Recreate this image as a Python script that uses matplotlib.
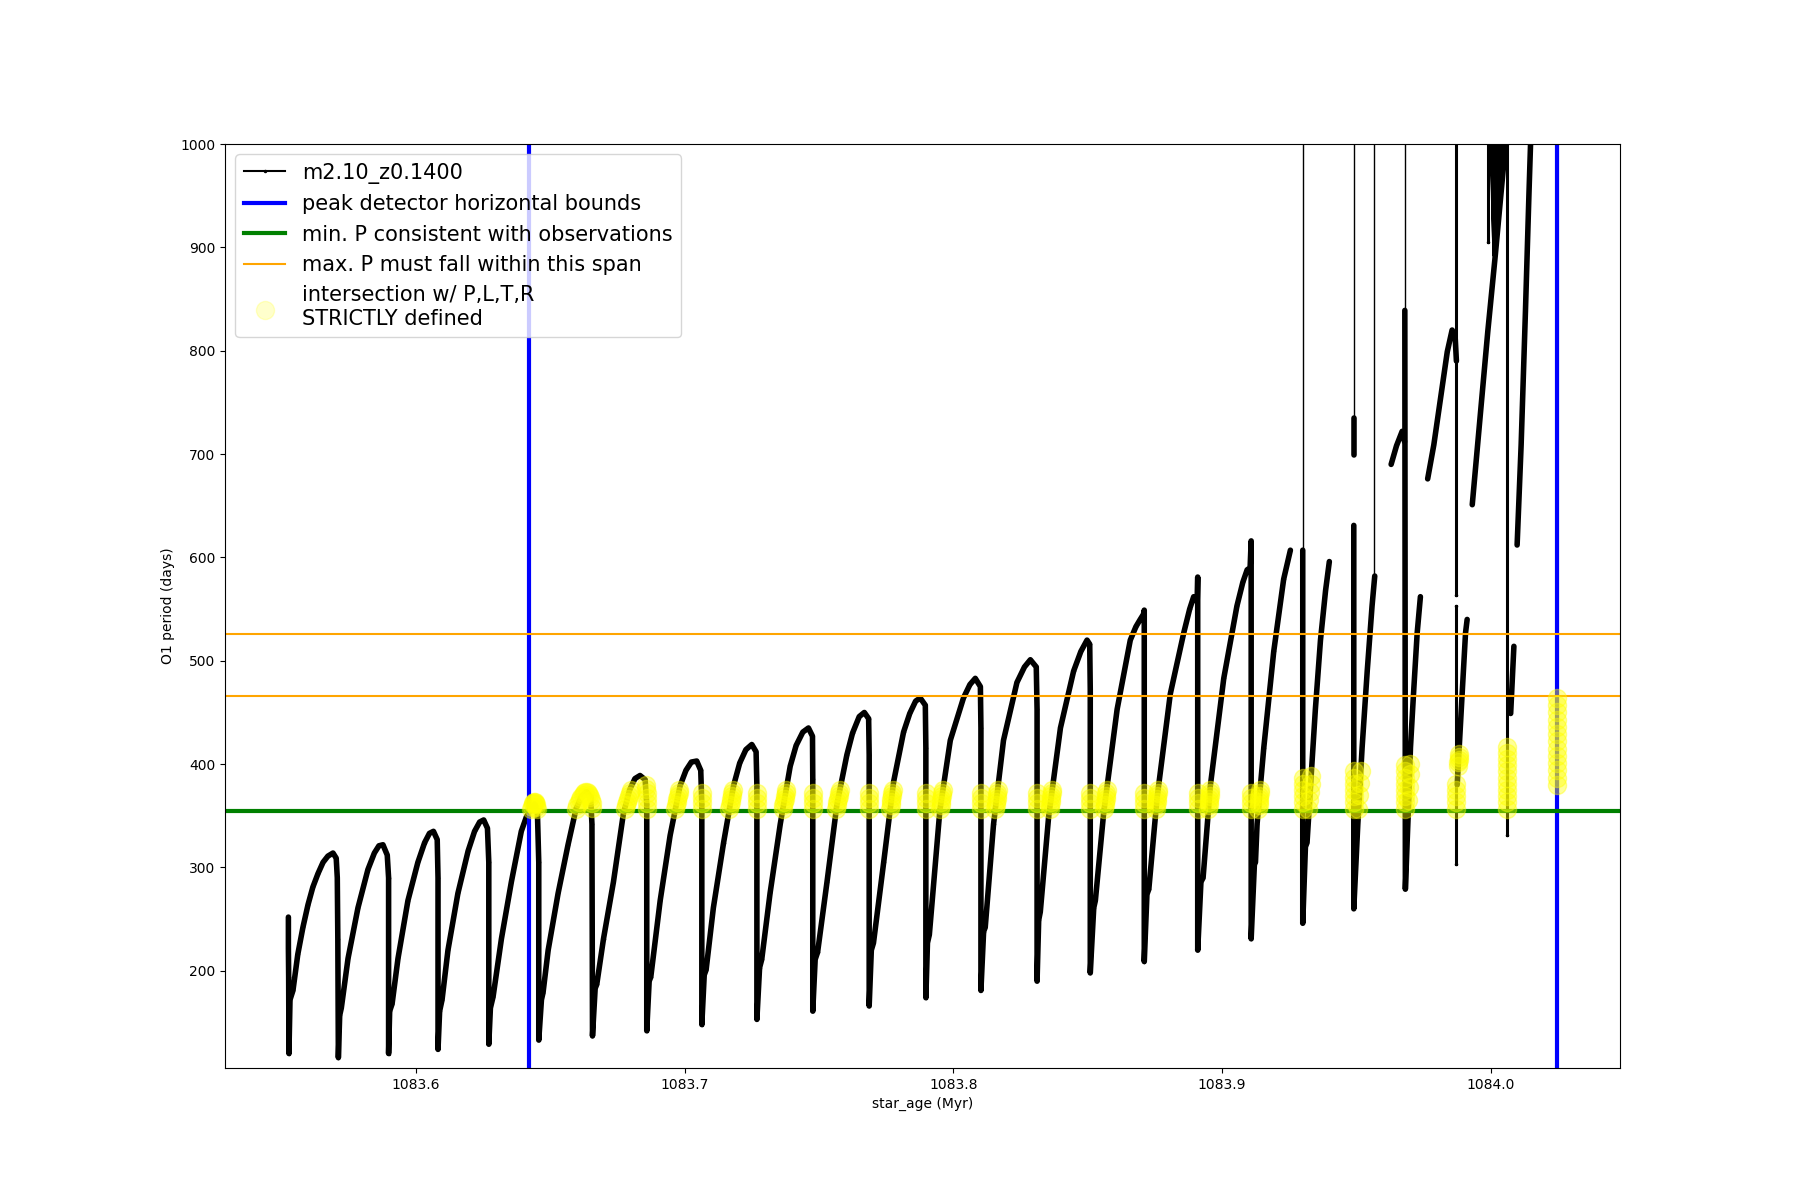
import matplotlib
matplotlib.use('Agg')
import matplotlib.pyplot as plt
import numpy as np

# O1 period vs star_age for m2.10_z0.1400.
# regular thermal-pulse cycles: rise, peak, drop to the minimum
cycle_age = [
    [1083.5525, 1083.5525, 1083.5525, 1083.5526, 1083.5527, 1083.5531, 1083.5542, 1083.5560, 1083.5579, 1083.5598,
     1083.5616, 1083.5635, 1083.5654, 1083.5672, 1083.5691, 1083.5703, 1083.5707, 1083.5709, 1083.5711],
    [1083.5716, 1083.5722, 1083.5747, 1083.5784, 1083.5821, 1083.5845, 1083.5862, 1083.5877, 1083.5893, 1083.5898, 1083.5898],
    [1083.5902, 1083.5911, 1083.5933, 1083.5970, 1083.6007, 1083.6032, 1083.6050, 1083.6065, 1083.6079, 1083.6082, 1083.6082],
    [1083.6088, 1083.6097, 1083.6119, 1083.6156, 1083.6194, 1083.6218, 1083.6237, 1083.6252, 1083.6266, 1083.6271, 1083.6271],
    [1083.6277, 1083.6287, 1083.6318, 1083.6355, 1083.6392, 1083.6411, 1083.6430, 1083.6442, 1083.6452, 1083.6457, 1083.6457],
    [1083.6467, 1083.6473, 1083.6492, 1083.6529, 1083.6566, 1083.6596, 1083.6615, 1083.6635, 1083.6650, 1083.6655, 1083.6657],
    [1083.6667, 1083.6673, 1083.6698, 1083.6735, 1083.6772, 1083.6795, 1083.6815, 1083.6834, 1083.6853, 1083.6859, 1083.6859],
    [1083.6868, 1083.6874, 1083.6909, 1083.6946, 1083.6983, 1083.7005, 1083.7025, 1083.7045, 1083.7060, 1083.7064, 1083.7064],
    [1083.7073, 1083.7080, 1083.7107, 1083.7145, 1083.7182, 1083.7205, 1083.7228, 1083.7250, 1083.7266, 1083.7269, 1083.7269],
    [1083.7279, 1083.7287, 1083.7318, 1083.7356, 1083.7393, 1083.7415, 1083.7440, 1083.7461, 1083.7476, 1083.7477, 1083.7477],
    [1083.7486, 1083.7495, 1083.7530, 1083.7567, 1083.7604, 1083.7625, 1083.7650, 1083.7669, 1083.7685, 1083.7687, 1083.7687],
    [1083.7695, 1083.7703, 1083.7741, 1083.7778, 1083.7815, 1083.7838, 1083.7860, 1083.7877, 1083.7896, 1083.7898, 1083.7898],
    [1083.7904, 1083.7911, 1083.7950, 1083.7989, 1083.8038, 1083.8062, 1083.8082, 1083.8101, 1083.8103, 1083.8103],
    [1083.8113, 1083.8119, 1083.8150, 1083.8187, 1083.8237, 1083.8265, 1083.8287, 1083.8309, 1083.8312, 1083.8312],
    [1083.8318, 1083.8324, 1083.8355, 1083.8399, 1083.8448, 1083.8475, 1083.8498, 1083.8508, 1083.8510, 1083.8510],
    [1083.8523, 1083.8529, 1083.8560, 1083.8610, 1083.8659, 1083.8680, 1083.8696, 1083.8708, 1083.8711, 1083.8711],
    [1083.8721, 1083.8728, 1083.8759, 1083.8808, 1083.8858, 1083.8880, 1083.8895, 1083.8908, 1083.8910, 1083.8910],
    [1083.8922, 1083.8930, 1083.8957, 1083.9007, 1083.9056, 1083.9078, 1083.9094, 1083.9105, 1083.9109, 1083.9109],
    [1083.9121, 1083.9125, 1083.9131, 1083.9156, 1083.9193, 1083.9230, 1083.9255],
]
cycle_p = [
    [252, 243, 222, 194, 120, 172, 181, 216, 242, 264, 281, 294, 305, 311, 314, 309, 290, 231, 116],
    [157, 164, 212, 261, 298, 314, 321, 322, 312, 290, 120],
    [161, 168, 212, 268, 305, 324, 333, 335, 327, 290, 124],
    [161, 172, 220, 275, 316, 335, 344, 346, 338, 305, 129],
    [164, 175, 231, 286, 335, 349, 358, 361, 353, 305, 133],
    [172, 179, 220, 275, 322, 357, 368, 373, 368, 342, 137],
    [183, 187, 231, 286, 352, 375, 386, 389, 385, 361, 142],
    [190, 194, 268, 331, 379, 394, 402, 403, 394, 361, 148],
    [196, 201, 261, 324, 379, 401, 414, 419, 412, 379, 153],
    [203, 211, 275, 342, 398, 418, 431, 435, 427, 386, 161],
    [211, 218, 286, 361, 409, 430, 446, 450, 444, 409, 166],
    [220, 227, 305, 383, 431, 449, 461, 464, 457, 416, 174],
    [227, 235, 355, 423, 464, 477, 483, 475, 435, 181],
    [238, 242, 342, 423, 479, 494, 501, 494, 453, 190],
    [249, 257, 349, 435, 490, 509, 520, 516, 472, 198],
    [261, 268, 353, 453, 520, 533, 540, 545, 549, 209],
    [274, 279, 368, 468, 527, 550, 562, 557, 581, 220],
    [286, 290, 379, 483, 553, 576, 588, 590, 616, 231],
    [303, 305, 342, 416, 509, 579, 607],
]

# late, messy pulses (right hand side)
tail_age = [
    [1083.9301, 1083.9301, 1083.9311, 1083.9317, 1083.9330, 1083.9348, 1083.9367, 1083.9386, 1083.9400],
    [1083.9491, 1083.9491, 1083.9506, 1083.9510, 1083.9522, 1083.9541, 1083.9559, 1083.9569],
    [1083.9493, 1083.9493],
    [1083.9630, 1083.9650, 1083.9671, 1083.9680],
    [1083.9681, 1083.9683, 1083.9696, 1083.9702, 1083.9714, 1083.9727, 1083.9739],
    [1083.9766, 1083.9789, 1083.9814, 1083.9839, 1083.9857, 1083.9868, 1083.9873],
    [1083.9876, 1083.9882, 1083.9895, 1083.9907, 1083.9913],
    [1083.9932, 1083.9963, 1083.9990, 1084.0018, 1084.0050, 1084.0056],
    [1084.0075, 1084.0087],
    [1084.0099, 1084.0114, 1084.0130, 1084.0143, 1084.0149, 1084.0152],
]
tail_p = [
    [607, 246, 320, 324, 379, 453, 520, 568, 596],
    [631, 260, 342, 360, 416, 490, 553, 582],
    [735, 699],
    [690, 708, 722, 712],
    [839, 279, 368, 416, 471, 527, 562],
    [676, 709, 754, 799, 820, 815, 790],
    [380, 409, 471, 527, 540],
    [651, 741, 819, 893, 983, 1100],
    [449, 514],
    [612, 709, 838, 951, 1000, 1100],
]

# sparse vertical runs of points
col_age = [1083.9873, 1083.9873, 1083.9991, 1084.0063, 1084.0246]
col_top = [1100, 553, 1100, 1100, 1100]
col_bot = [564, 303, 905, 331, 372]

# thin connecting lines that leave the top of the axes
spike_age = [1083.9301, 1083.9493, 1083.9566, 1083.9681]
spike_base = [607, 735, 582, 839]
spike_top = [1100, 1100, 1100, 1100]

# fast oscillation near 1084.00 (looks filled in the figure)
fan_age = [1083.9992, 1084.0012, 1083.9995, 1084.0016, 1083.9998, 1084.0019, 1084.0001, 1084.0022,
           1084.0004, 1084.0025, 1084.0007, 1084.0028, 1084.0010, 1084.0031, 1084.0013, 1084.0034,
           1084.0016, 1084.0037, 1084.0019, 1084.0040, 1084.0022, 1084.0043, 1084.0026, 1084.0046,
           1084.0030, 1084.0049, 1084.0035, 1084.0053, 1084.0042, 1084.0058, 1084.0050, 1084.0064]
fan_p = [1100, 892, 1100, 893, 1100, 896, 1100, 904, 1100, 913, 1100, 921, 1100, 930, 1100, 938,
         1100, 947, 1100, 955, 1100, 964, 1100, 972, 1100, 981, 1100, 992, 1100, 1000, 1100, 1000]

# yellow "intersection" points
rise_levels = [357, 360, 363, 366, 369, 372, 375]
rise_blob_age = [
    [1083.6778, 1083.6782, 1083.6785, 1083.6789, 1083.6792, 1083.6796, 1083.6799],
    [1083.6966, 1083.6968, 1083.6971, 1083.6973, 1083.6975, 1083.6978, 1083.6980],
    [1083.7167, 1083.7169, 1083.7171, 1083.7173, 1083.7175, 1083.7177, 1083.7179],
    [1083.7366, 1083.7368, 1083.7370, 1083.7372, 1083.7374, 1083.7376, 1083.7378],
    [1083.7565, 1083.7567, 1083.7569, 1083.7571, 1083.7574, 1083.7576, 1083.7578],
    [1083.7766, 1083.7767, 1083.7769, 1083.7770, 1083.7771, 1083.7773, 1083.7774],
    [1083.7951, 1083.7953, 1083.7954, 1083.7956, 1083.7958, 1083.7959, 1083.7961],
    [1083.8157, 1083.8158, 1083.8160, 1083.8161, 1083.8162, 1083.8164, 1083.8165],
    [1083.8359, 1083.8361, 1083.8362, 1083.8364, 1083.8365, 1083.8367, 1083.8368],
    [1083.8562, 1083.8564, 1083.8565, 1083.8567, 1083.8568, 1083.8570, 1083.8571],
    [1083.8755, 1083.8756, 1083.8758, 1083.8759, 1083.8760, 1083.8762, 1083.8763],
    [1083.8950, 1083.8951, 1083.8952, 1083.8953, 1083.8954, 1083.8955, 1083.8956],
    [1083.9136, 1083.9137, 1083.9138, 1083.9139, 1083.9140, 1083.9141, 1083.9142],
]
drop_levels = [357, 362, 367, 372]
drop_blob_age = [1083.6859, 1083.7064, 1083.7269, 1083.7477, 1083.7687, 1083.7898,
                 1083.8103, 1083.8312, 1083.8510, 1083.8711, 1083.8910, 1083.9109]
extra_age = [
    1083.6428, 1083.6432, 1083.6434, 1083.6437, 1083.6440, 1083.6442, 1083.6444, 1083.6446, 1083.6448, 1083.6452,
    1083.6596, 1083.6600, 1083.6605, 1083.6610, 1083.6615, 1083.6620, 1083.6625, 1083.6630, 1083.6635, 1083.6640,
    1083.6645, 1083.6649, 1083.6652, 1083.6654, 1083.6656,
    1083.6857, 1083.6855,
    1083.9301, 1083.9301, 1083.9301, 1083.9301, 1083.9301, 1083.9301,
    1083.9322, 1083.9325, 1083.9328, 1083.9331, 1083.9333,
    1083.9491, 1083.9491, 1083.9491, 1083.9491, 1083.9491, 1083.9491, 1083.9491,
    1083.9508, 1083.9512, 1083.9515, 1083.9518,
    1083.9683, 1083.9683, 1083.9683, 1083.9683, 1083.9683, 1083.9683, 1083.9683, 1083.9683,
    1083.9694, 1083.9697, 1083.9699, 1083.9701,
    1083.9873, 1083.9873, 1083.9873, 1083.9873, 1083.9873,
    1083.9880, 1083.9881, 1083.9882, 1083.9880, 1083.9883,
    1084.0062, 1084.0062, 1084.0062, 1084.0062, 1084.0062, 1084.0062, 1084.0062, 1084.0062, 1084.0062, 1084.0062, 1084.0062,
    1084.0246, 1084.0246, 1084.0246, 1084.0246, 1084.0246, 1084.0246, 1084.0246, 1084.0246, 1084.0246, 1084.0246,
    1084.0246, 1084.0246, 1084.0246,
]
extra_p = [
    357, 359, 361, 362, 363, 363, 362, 361, 359, 357,
    357, 360, 363, 366, 368, 370, 372, 373, 373, 372,
    370, 368, 365, 362, 358,
    376, 380,
    357, 363, 369, 375, 381, 387,
    357, 365, 373, 381, 389,
    357, 363, 369, 375, 381, 387, 393,
    357, 370, 382, 393,
    357, 363, 369, 375, 381, 387, 393, 399,
    365, 378, 390, 400,
    357, 363, 369, 375, 381,
    398, 404, 410, 402, 407,
    357, 363, 369, 375, 381, 387, 393, 399, 405, 411, 417,
    380, 387, 394, 401, 408, 415, 422, 429, 436, 443, 450, 457, 464,
]

peak_bounds = [1083.6421, 1084.0246]
min_p = 355
max_p_span = [526, 466]

main_age = np.concatenate(cycle_age)
main_p = np.concatenate(cycle_p)

yellow_age = list(extra_age)
yellow_p = list(extra_p)
for ages in rise_blob_age:
    yellow_age += ages
    yellow_p += rise_levels
for a in drop_blob_age:
    yellow_age += [a] * len(drop_levels)
    yellow_p += drop_levels

fig, ax = plt.subplots(figsize=(18, 12))

# the track is very densely sampled, so it reads as a fat line
ax.plot(main_age, main_p, color='k', lw=4, solid_joinstyle='round', solid_capstyle='round')
for a, p in zip(tail_age, tail_p):
    ax.plot(a, p, color='k', lw=4, solid_joinstyle='round', solid_capstyle='round')
for a, hi, lo in zip(col_age, col_top, col_bot):
    ax.plot([a, a], [hi, lo], '.-', color='k', lw=2.2, ms=3)
for a, lo, hi in zip(spike_age, spike_base, spike_top):
    ax.plot([a, a], [lo, hi], color='k', lw=1)
ax.plot(fan_age, fan_p, color='k', lw=2)
ax.plot(main_age, main_p, '.-', color='k', lw=1.5, ms=3, label='m2.10_z0.1400')

ax.axvline(peak_bounds[0], color='blue', lw=3, label='peak detector horizontal bounds')
ax.axvline(peak_bounds[1], color='blue', lw=3)
ax.axhline(min_p, color='green', lw=3, label='min. P consistent with observations')
ax.axhline(max_p_span[0], color='orange', lw=1.5, label='max. P must fall within this span')
ax.axhline(max_p_span[1], color='orange', lw=1.5)
ax.scatter(yellow_age, yellow_p, s=170, color='yellow', alpha=0.4, zorder=3,
           label='intersection w/ P,L,T,R\nSTRICTLY defined')

ax.set_xlim(1083.5289, 1084.0482)
ax.set_ylim(106, 1000)
ax.ticklabel_format(axis='x', useOffset=False)
ax.set_xlabel('star_age (Myr)')
ax.set_ylabel('O1 period (days)')
leg = ax.legend(loc='upper left', fontsize=15)
leg.legend_handles[-1].set_alpha(0.2)

fig.savefig('out.png', dpi=100)
